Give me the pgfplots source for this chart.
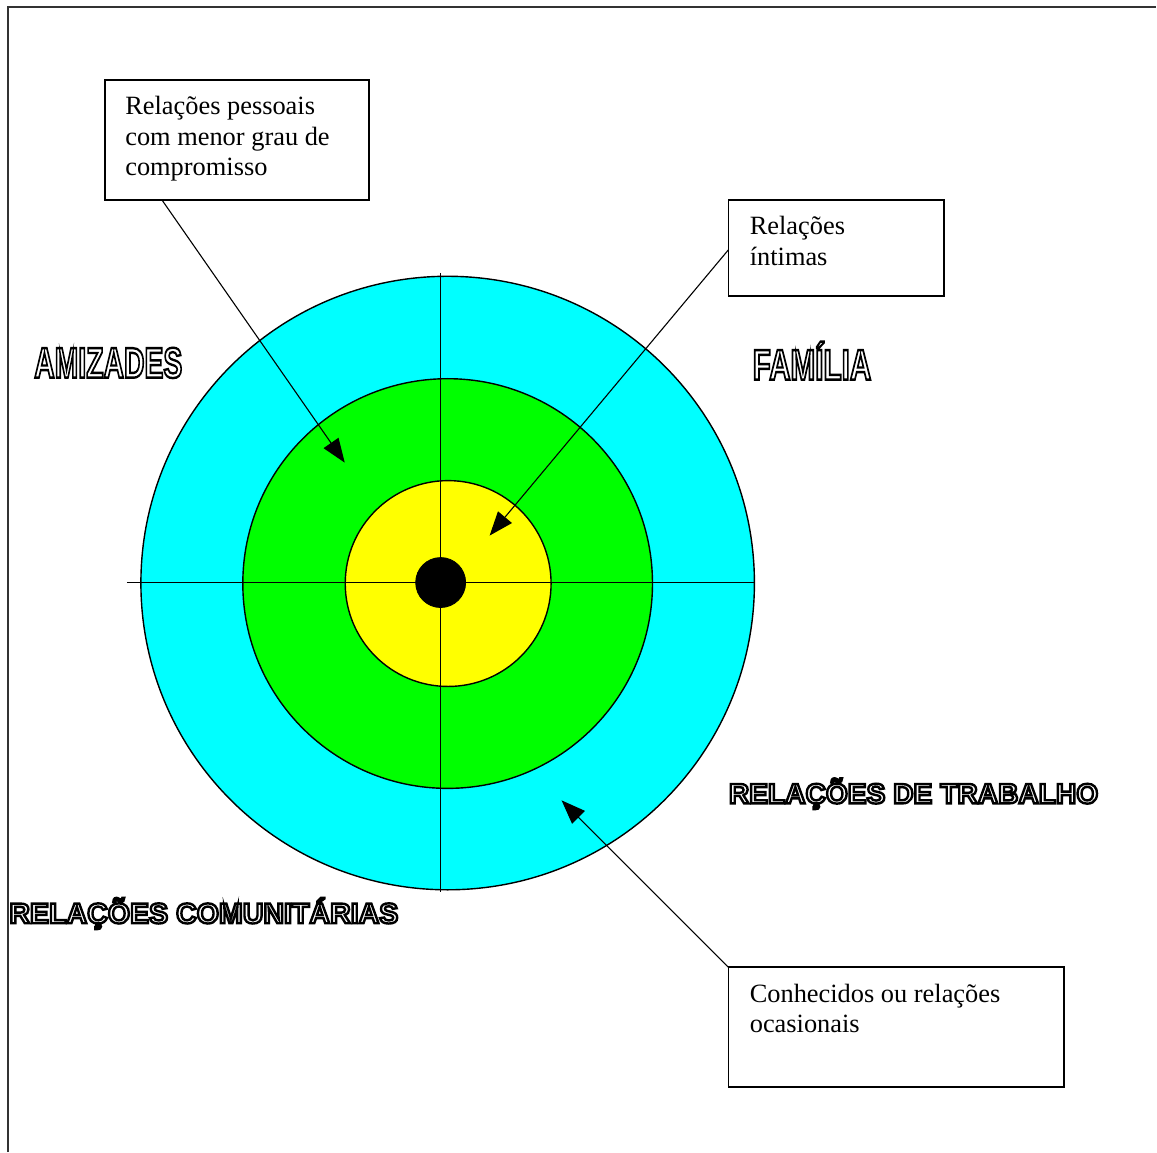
\documentclass[border=0pt]{standalone}
\usepackage{pgfplots}
\pgfplotsset{compat=1.18}
\usetikzlibrary{arrows.meta}
\usepackage{fontspec}
\setmainfont{Liberation Serif}
\newfontfamily\outlfont{Liberation Sans}
\newcommand{\outl}[1]{\special{pdf:literal direct 1 Tr 1.2 w}#1\special{pdf:literal direct 0 Tr}}
\definecolor{ccyan}{RGB}{0,255,255}
\definecolor{cgreen}{RGB}{0,255,0}
\definecolor{cyellow}{RGB}{255,255,0}
\begin{document}
\begin{tikzpicture}
\begin{axis}[
  width=578.5pt, height=576.5pt, scale only axis,
  xmin=0, xmax=1157, ymin=0, ymax=1153, y dir=reverse,
  axis lines=none, clip=false, clip mode=individual,
  ]
\path (axis cs:0,0) rectangle (axis cs:1157,1153);
% frame
\draw[line width=0.9pt, black!80] (axis cs:8,1153) -- (axis cs:8,7) -- (axis cs:1157,7);
% rings
\addplot[only marks, mark=*, mark size=153.5pt, mark options={fill=ccyan, draw=black, line width=0.7pt}] coordinates {(448,583.5)};
\addplot[only marks, mark=*, mark size=102.5pt, mark options={fill=cgreen, draw=black, line width=0.7pt}] coordinates {(448,584)};
\addplot[only marks, mark=*, mark size=51.5pt, mark options={fill=cyellow, draw=black, line width=0.7pt}] coordinates {(448.5,584)};
% cross
\addplot[black, line width=0.6pt] coordinates {(127,583) (755,583)};
\addplot[black, line width=0.6pt] coordinates {(441,273) (441,893)};
% centre dot
\addplot[only marks, mark=*, mark size=12.5pt, mark options={fill=black, draw=black}] coordinates {(441,583)};
% boxes
\draw[line width=0.9pt] (axis cs:105,80) rectangle (axis cs:369,200);
\draw[line width=0.9pt] (axis cs:729,200) rectangle (axis cs:945,296);
\draw[line width=0.9pt] (axis cs:729,968) rectangle (axis cs:1065,1088);
% arrows
\draw[line width=0.55pt, -{Triangle[length=12pt,width=9pt]}] (axis cs:162,200) -- (axis cs:345,463);
\draw[line width=0.55pt, -{Triangle[length=12pt,width=9pt]}] (axis cs:729,250) -- (axis cs:490,536);
\draw[line width=0.55pt, -{Triangle[length=12pt,width=9pt]}] (axis cs:729,968) -- (axis cs:562,801);
% box texts
\begin{scope}[every node/.style={inner sep=0pt, anchor=base west, font=\fontsize{13.2}{15.25}\selectfont}]
\node at (axis cs:125,115) {Relações pessoais};
\node at (axis cs:125,145.5) {com menor grau de};
\node at (axis cs:125,176) {compromisso};
\node at (axis cs:750,235) {Relações};
\node at (axis cs:750,265.5) {íntimas};
\node at (axis cs:750,1003) {Conhecidos ou relações};
\node at (axis cs:750,1033.5) {ocasionais};
\end{scope}
% outlined labels
\begin{scope}[every node/.style={inner sep=0pt, anchor=base west}]
\node[xscale=0.66, font=\outlfont\bfseries\fontsize{21.5}{24}\selectfont] at (axis cs:34,378) {\outl{AMIZADES}};
\node[xscale=0.69, font=\outlfont\bfseries\fontsize{21.5}{24}\selectfont] at (axis cs:753,380) {\outl{FAMÍLIA}};
\node[font=\outlfont\bfseries\fontsize{14.1}{16}\selectfont] at (axis cs:729,804) {\outl{RELAÇÕES DE TRABALHO}};
\node[font=\outlfont\bfseries\fontsize{14.3}{16}\selectfont] at (axis cs:9,924) {\outl{RELAÇÕES COMUNITÁRIAS}};
\end{scope}
\end{axis}
\end{tikzpicture}
\end{document}
